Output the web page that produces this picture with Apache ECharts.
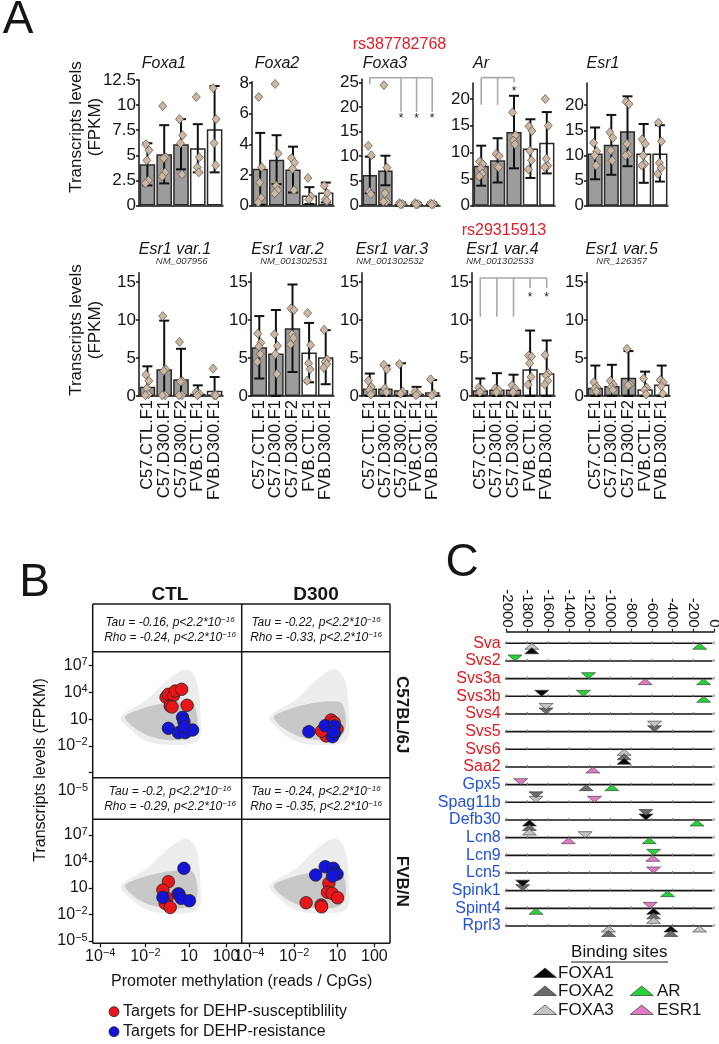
<!DOCTYPE html>
<html><head><meta charset="utf-8">
<script src="https://cdn.jsdelivr.net/npm/echarts@6/dist/echarts.min.js"></script>
<style>html,body{margin:0;padding:0;background:#fff}#c{width:719px;height:1044px}</style>
</head><body><div id="c"></div>
<script>
// ---------------- DATA ----------------
const groups = ['C57.CTL.F1','C57.D300.F1','C57.D300.F2','FVB.CTL.F1','FVB.D300.F1'];
const topGenes = ['Foxa1','Foxa2','Foxa3','Ar','Esr1'];
const botGenes = ['Esr1 var.1','Esr1 var.2','Esr1 var.3','Esr1 var.4','Esr1 var.5'];
const botAccessions = ['NM_007956','NM_001302531','NM_001302532','NM_001302533','NR_126357'];
const snpTop = 'rs387782768';
const snpBot = 'rs29315913';

const foxa1Mean = [4.1, 5.1, 6.1, 5.7, 7.6];
const foxa1Sd   = [2.1, 2.9, 2.5, 2.4, 4.3];
const foxa1Pts  = [[6.1,5.5,4.5,2.5,2.2],[9.9,4.8,4.7,3.3,2.9],[8.6,7.0,6.2,3.1],[10.8,4.8,3.8,3.3],[11.7,8.6,6.2,4.0]];
const foxa2Mean = [2.4, 3.0, 2.35, 0.65, 0.85];
const foxa2Sd   = [2.35, 1.6, 1.5, 0.55, 0.65];
const foxa2Pts  = [[7.1,2.5,1.5,0.5,0.2],[7.95,3.4,1.3,1.0,0.8],[3.1,2.8,2.4,1.0],[1.8,0.6,0.4],[1.3,0.8,0.4,0.3]];
const foxa3Mean = [6.2, 7.1, 0.3, 0.3, 0.3];
const foxa3Sd   = [3.7, 3.0, 0.3, 0.3, 0.3];
const foxa3Pts  = [[12.1,10.2,2.8,2.3],[24.4,7.7,2.5,0.8,0.8],[0.5,0.3,0.2],[0.5,0.3,0.2],[0.4,0.3,0.2]];
const arMean    = [7.5, 8.5, 13.8, 10.7, 11.8];
const arSd      = [3.75, 4.15, 6.8, 5.5, 5.75];
const arPts     = [[8.3,7.8,7.0,6.0,5.5],[9.7,9.3,7.3,7.2],[17.5,13.2,12.2,11.5],[14.9,14.0,10.3,8.5,6.8],[20.0,15.0,8.8,7.5,7.2]];
const esr1Mean  = [10.4, 12.1, 14.8, 10.4, 10.4];
const esr1Sd    = [5.15, 5.95, 6.95, 5.85, 5.6];
const esr1Pts   = [[12.5,10.8,10.0,8.0],[14.6,13.5,11.0,9.0],[20.7,20.2,12.3,10.2,10.0],[13.2,12.3,10.0,8.3,8.0],[16.5,12.8,8.5,7.5,6.3]];

const var1Mean = [1.2, 3.5, 2.2, 0.3, 0.7];
const var1Sd   = [2.7, 6.4, 4.0, 1.1, 1.8];
const var1Pts  = [[2.8,2.0,1.0,0.2,0.1],[10.5,3.5,3.3,0.1,0.1],[7.1,1.9,1.9,0.1,0.1],[0.5,0.3,0.1],[3.6,0.1,0.1,0.1]];
const var2Mean = [6.4, 5.6, 8.9, 5.7, 5.1];
const var2Sd   = [4.1, 5.7, 5.75, 3.9, 3.55];
const var2Pts  = [[8.2,7.0,6.5,5.5,4.5],[8.1,6.6,5.5,2.9],[11.5,11.3,8.1,7.6,6.8],[10.9,6.7,4.3,3.5,2.0],[8.7,4.8,4.5,4.2,3.7]];
const var3Mean = [1.0, 1.0, 0.75, 0.3, 0.5];
const var3Sd   = [1.95, 3.0, 3.55, 0.9, 1.6];
const var3Pts  = [[2.0,1.2,0.8,0.2],[4.1,3.5,1.0,0.5],[4.2,0.6,0.3],[0.6,0.3,0.1],[2.2,0.3,0.1]];
const var4Mean = [0.75, 0.85, 0.85, 3.5, 3.0];
const var4Sd   = [1.55, 2.15, 1.95, 5.1, 4.3];
const var4Pts  = [[1.1,0.8,0.5],[1.0,0.8,0.5],[1.4,1.0,0.5],[5.3,5.2,4.3,2.5,1.5],[5.4,3.0,2.7,2.0,1.5]];
const var5Mean = [1.1, 1.3, 2.4, 0.9, 1.5];
const var5Sd   = [2.9, 2.8, 3.5, 2.3, 2.5];
const var5Pts  = [[1.8,1.2,1.0,0.6],[2.0,1.5,1.2,0.8],[6.2,1.5,1.4],[2.3,1.1,0.8,0.2],[2.1,1.8,1.3,0.3]];

// significance brackets: [bar index, lower end of leg], bracket top, starred bars
const foxa3SigLegs = [[0,24.6],[2,19.0],[3,19.0],[4,19.0]]; const foxa3SigTop = 25.9; const foxa3Stars = [2,3,4]; const foxa3StarY = 17.6;
const arSigLegs    = [[0,18.9],[1,18.9],[2,23.1]];          const arSigTop = 24.0;    const arStars = [2];       const arStarY = 21.4;
const var4SigLegs  = [[0,10.4],[1,10.4],[2,10.4],[3,14.2],[4,14.2]]; const var4SigTop = 15.5; const var4Stars = [3,4]; const var4StarY = 12.9;

// Panel B
const bCols = ['CTL','D300'];
const bRows = ['C57BL/6J','FVB/N'];
const bStats = [
  ['Tau = -0.16, p<2.2*10','Rho = -0.24, p<2.2*10'],
  ['Tau = -0.22, p<2.2*10','Rho = -0.33, p<2.2*10'],
  ['Tau = -0.2, p<2.2*10','Rho = -0.29, p<2.2*10'],
  ['Tau = -0.24, p<2.2*10','Rho = -0.35, p<2.2*10']
];
const bStatExp = '−16';
const bXTickVals = [0.05, 1.04, 1.99, 2.8];
const bXTickText = [['10','−4'],['10','−2'],['10',''],['100','']];
const bYTickVals = [-5,-2,1,4,7];
const bYTickText = [['10','−5'],['10','−2'],['10',''],['10','4'],['10','7']];
// x: methylation axis position, y: log10 FPKM
const cloudCore = [[0.59,1.28],[0.91,2.1],[1.35,2.7],[1.8,3.0],[2.07,2.85],[2.16,1.66],[2.17,0.16],[2.05,-1.0],[1.57,-1.35],[1.1,-0.85],[0.75,0.2]];
const cloudHalo = [[0.5,1.28],[1.1,3.3],[1.5,5.3],[1.93,6.6],[2.15,5.4],[2.24,1.66],[2.2,-1.3],[1.71,-1.9],[1.06,-1.45],[0.63,0.2]];
const redC57CTL   = [[1.49,3.46],[1.54,3.79],[1.65,3.64],[1.69,4.16],[1.83,4.35],[1.58,2.48],[1.62,2.37],[1.95,2.56]];
const blueC57CTL  = [[1.54,-0.02],[1.85,1.21],[1.88,0.72],[1.76,-0.51],[1.91,-0.51],[2.07,-0.21],[1.89,0.16]];
const redC57D300  = [[1.85,0.91],[1.77,0.05],[1.92,0.61],[1.77,-0.66],[1.74,-0.88],[1.98,-0.1],[1.64,-0.33]];
const blueC57D300 = [[1.72,0.27],[1.92,0.24],[1.36,-0.4],[1.92,-0.58],[1.88,-0.96],[1.9,-0.4]];
const redFVBCTL   = [[1.54,1.71],[1.42,0.77],[1.51,-0.17],[1.47,-0.74],[1.58,-1.2],[1.75,0.32]];
const blueFVBCTL  = [[1.88,3.23],[1.42,-0.06],[1.77,0.32],[1.82,-0.17],[2.0,-0.44]];
const redFVBD300  = [[1.8,1.53],[1.77,0.51],[1.87,0.39],[1.99,-0.1],[1.3,-0.67],[1.63,-0.93],[1.64,-1.13]];
const blueFVBD300 = [[1.72,3.41],[1.9,3.23],[1.94,2.73],[1.98,2.58],[1.51,2.47],[1.88,2.35]];
const bLegend = ['Targets for DEHP-susceptiblility','Targets for DEHP-resistance'];

// Panel C
const cGenes = ['Sva','Svs2','Svs3a','Svs3b','Svs4','Svs5','Svs6','Saa2','Gpx5','Spag11b','Defb30','Lcn8','Lcn9','Lcn5','Spink1','Spint4','Rprl3'];
const cSusceptible = [1,1,1,1,1,1,1,1,0,0,0,0,0,0,0,0,0];
const cTFs = ['FOXA1','FOXA2','FOXA3','AR','ESR1'];
const siteGene   = ['Sva','Sva','Sva','Svs2','Svs3a','Svs3a','Svs3a','Svs3b','Svs3b','Svs3b','Svs4','Svs4','Svs5','Svs5','Svs6','Svs6','Svs6','Saa2',
  'Gpx5','Gpx5','Gpx5','Spag11b','Spag11b','Spag11b','Defb30','Defb30','Defb30','Defb30','Defb30','Defb30','Lcn8','Lcn8','Lcn8','Lcn9','Lcn9','Lcn5',
  'Spink1','Spink1','Spink1','Spint4','Spint4','Spint4','Spint4','Spint4','Rprl3','Rprl3','Rprl3','Rprl3','Rprl3'];
const siteTF     = ['FOXA3','FOXA1','AR','AR','AR','ESR1','AR','FOXA1','AR','AR','FOXA2','FOXA3','FOXA2','FOXA3','FOXA3','FOXA2','FOXA1','ESR1',
  'ESR1','FOXA2','AR','FOXA3','FOXA2','ESR1','FOXA1','FOXA2','FOXA1','FOXA2','FOXA3','AR','ESR1','FOXA3','AR','AR','ESR1','ESR1',
  'FOXA2','FOXA1','AR','AR','ESR1','FOXA1','FOXA2','FOXA3','FOXA3','FOXA2','FOXA1','FOXA2','FOXA3'];
const sitePos    = [-1758,-1758,-139,-1920,-1211,-664,-100,-1662,-1260,-100,-1620,-1620,-574,-574,-867,-867,-867,-1169,
  -1865,-1234,-986,-1717,-1717,-1153,-657,-657,-1781,-1781,-1781,-164,-1405,-1243,-625,-583,-590,-583,
  -1846,-1846,-448,-1717,-616,-583,-583,-583,-1018,-1018,-416,-416,-139];
const siteStrand = ['-','-','-','+','+','-','-','+','+','-','+','+','+','+','-','-','-','-',
  '+','-','-','+','+','+','+','+','-','-','-','-','-','+','-','+','-','+',
  '+','+','-','-','+','-','-','-','-','-','-','-','-'];
const cXTicks = [-2000,-1800,-1600,-1400,-1200,-1000,-800,-600,-400,-200,0];

// ---------------- BUILD ----------------
const FONT = '"Liberation Sans", Arial, Helvetica, sans-serif';
const INK = '#151515';
const grids = [], xAxes = [], yAxes = [], series = [], graphics = [];
function addGrid(left, top, width, height) {
  grids.push({left, top, width, height, containLabel:false, outerBoundsMode:'none', show:false});
  return grids.length - 1;
}
function txt(x, y, text, o) {
  o = o || {};
  const st = {text, fill:o.color||INK, fontSize:o.size||16, fontFamily:FONT,
    fontStyle:o.italic?'italic':'normal', fontWeight:o.bold?'bold':'normal',
    align:o.align||'center', verticalAlign:o.va||'middle'};
  if (o.rich) st.rich = o.rich;
  graphics.push({type:'text', x, y, rotation:o.rot||0, silent:true, z:100, style:st});
}
function gline(x1,y1,x2,y2,w,c) {
  graphics.push({type:'line', silent:true, z:100, shape:{x1,y1,x2,y2}, style:{stroke:c||INK, lineWidth:w||1.5}});
}

// ---- Panel A ----
const JIT = [-1.5, 1.5, -0.5, 1, -2, 2];
function barPanel(p) {
  const gi = addGrid(p.left, p.top, p.width, p.height);
  xAxes.push({gridIndex:gi, type:'category', data:groups,
    axisLine:{show:true, onZero:false, lineStyle:{color:INK, width:1.5}}, axisTick:{show:false},
    axisLabel: p.showX ? {show:true, interval:0, rotate:90, fontSize:16.5, color:INK, margin:4, fontFamily:FONT} : {show:false},
    splitLine:{show:false}});
  yAxes.push({gridIndex:gi, type:'value', min:0, max:p.max,
    axisLine:{show:true, onZero:false, lineStyle:{color:INK, width:1.5}},
    axisTick:{show:true, length:3, customValues:p.ticks, lineStyle:{color:INK, width:1.5}},
    axisLabel:{show:true, customValues:p.ticks, fontSize:17, color:INK, margin:3, fontFamily:FONT},
    splitLine:{show:false}});
  series.push({type:'bar', xAxisIndex:gi, yAxisIndex:gi, barCategoryGap:'7%', silent:true, z:2,
    data:p.mean.map((v,k)=>({value:v, itemStyle:{color:k<3?'#9c9c9c':'#ffffff'}})),
    itemStyle:{borderColor:'#2a2a2a', borderWidth:1.5}});
  series.push({type:'custom', xAxisIndex:gi, yAxisIndex:gi, clip:false, z:4, silent:true,
    data:p.mean.map((m,k)=>[k, Math.max(0, m-p.sd[k]), m+p.sd[k]]),
    renderItem:(params, api)=>{
      const x = api.coord([api.value(0), 0])[0];
      const lo = api.coord([api.value(0), api.value(1)])[1];
      const hi = api.coord([api.value(0), api.value(2)])[1];
      const c = 5, st = {stroke:'#111', lineWidth:2};
      return {type:'group', children:[
        {type:'line', shape:{x1:x,y1:lo,x2:x,y2:hi}, style:st},
        {type:'line', shape:{x1:x-c,y1:hi,x2:x+c,y2:hi}, style:st},
        {type:'line', shape:{x1:x-c,y1:lo,x2:x+c,y2:lo}, style:st}]};
    }});
  const pts = [];
  p.pts.forEach((arr,k)=>arr.forEach((v,j)=>pts.push({value:[k,v], symbolOffset:[JIT[j%JIT.length],0]})));
  series.push({type:'scatter', xAxisIndex:gi, yAxisIndex:gi, symbol:'diamond', symbolSize:[8,9], silent:true, z:5,
    data:pts, itemStyle:{color:'#cab8a4', borderColor:'#6c5f54', borderWidth:0.8, opacity:1}});
  if (p.sig) {
    const s = p.sig;
    series.push({type:'custom', xAxisIndex:gi, yAxisIndex:gi, clip:false, z:3, silent:true, data:[0],
      renderItem:(params, api)=>{
        const X = k=>api.coord([k,0])[0], Y = v=>api.coord([0,v])[1];
        const xs = s.legs.map(l=>X(l[0]));
        const st = {stroke:'#a9a9a9', lineWidth:1.6};
        const ch = [{type:'line', shape:{x1:Math.min(...xs), y1:Y(s.top), x2:Math.max(...xs), y2:Y(s.top)}, style:st}];
        s.legs.forEach(l=>ch.push({type:'line', shape:{x1:X(l[0]), y1:Y(s.top), x2:X(l[0]), y2:Y(l[1])}, style:st}));
        s.stars.forEach(k=>ch.push({type:'text', x:X(k), y:Y(s.starY), style:{text:'*', fill:'#222', fontSize:12, fontFamily:FONT, align:'center', verticalAlign:'middle'}}));
        return {type:'group', children:ch};
      }});
  }
}
const topLayout = [
  {left:139, width:84, top:80,   bottom:205.5, max:12.5, ticks:[0,2.5,5,7.5,10,12.5]},
  {left:252, width:82, top:81.7, bottom:205.5, max:8.1,  ticks:[0,2,4,6,8]},
  {left:362, width:78, top:79.3, bottom:205.5, max:25.6, ticks:[0,5,10,15,20,25]},
  {left:473, width:82, top:83,   bottom:205.7, max:23,   ticks:[0,5,10,15,20]},
  {left:587, width:81, top:83,   bottom:205.7, max:24.4, ticks:[0,5,10,15,20]}
];
const topData = [
  [foxa1Mean, foxa1Sd, foxa1Pts, null],
  [foxa2Mean, foxa2Sd, foxa2Pts, null],
  [foxa3Mean, foxa3Sd, foxa3Pts, {legs:foxa3SigLegs, top:foxa3SigTop, stars:foxa3Stars, starY:foxa3StarY}],
  [arMean, arSd, arPts, {legs:arSigLegs, top:arSigTop, stars:arStars, starY:arStarY}],
  [esr1Mean, esr1Sd, esr1Pts, null]
];
topLayout.forEach((L,i)=>barPanel({left:L.left, width:L.width, top:L.top, height:L.bottom-L.top, max:L.max, ticks:L.ticks,
  mean:topData[i][0], sd:topData[i][1], pts:topData[i][2], sig:topData[i][3], showX:false}));
const botLeft = [139, 251, 362, 472, 587], botWidth = [84, 83, 78, 83, 83];
const botData = [
  [var1Mean, var1Sd, var1Pts, null],
  [var2Mean, var2Sd, var2Pts, null],
  [var3Mean, var3Sd, var3Pts, null],
  [var4Mean, var4Sd, var4Pts, {legs:var4SigLegs, top:var4SigTop, stars:var4Stars, starY:var4StarY}],
  [var5Mean, var5Sd, var5Pts, null]
];
botData.forEach((d,i)=>barPanel({left:botLeft[i], width:botWidth[i], top:272.7, height:123.3, max:16.2, ticks:[0,5,10,15],
  mean:d[0], sd:d[1], pts:d[2], sig:d[3], showX:true}));

// titles A
const topTitleX = [164, 277, 385, 481, 603];
topGenes.forEach((g,i)=>txt(topTitleX[i], 64, g, {italic:true, size:16}));
txt(399.5, 45, snpTop, {color:'#e51c23', size:16});
const botTitleX = [175, 287.5, 392, 502.5, 621.7], botSubX = [181.7, 294, 390, 500, 621.7];
botGenes.forEach((g,i)=>{ txt(botTitleX[i], 250, g, {italic:true, size:16}); txt(botSubX[i], 261.5, botAccessions[i], {italic:true, size:9.5, color:'#333'}); });
txt(504, 231, snpBot, {color:'#e51c23', size:16});
[127, 330].forEach(cy=>{
  txt(76.5, cy, 'Transcripts levels', {rot:Math.PI/2, size:17});
  txt(95.5, cy, '(FPKM)', {rot:Math.PI/2, size:17});
});
txt(18, 20, 'A', {size:46});

// ---- Panel B ----
const bRich = {b:{fontSize:16, fontFamily:FONT, color:INK, lineHeight:18}, s:{fontSize:11, fontFamily:FONT, color:INK, verticalAlign:'top', lineHeight:11}};
function tickFmt(vals, texts) {
  return v => { const i = vals.findIndex(t=>Math.abs(t-v)<1e-6); if (i<0) return ''; const t = texts[i]; return t[1] ? '{b|'+t[0]+'}{s|'+t[1]+'}' : '{b|'+t[0]+'}'; };
}
function scatterPanel(box, yr, showX, showY, yLabVals, red, blue) {
  const gi = addGrid(box[0], box[1], box[2], box[3]);
  xAxes.push({gridIndex:gi, type:'value', min:-0.116, max:3.144,
    axisLine:{show:false, onZero:false}, splitLine:{show:false},
    axisTick:{show:showX, customValues:bXTickVals, length:4, lineStyle:{color:INK, width:1.3}},
    axisLabel:{show:showX, customValues:bXTickVals, margin:4, formatter:tickFmt(bXTickVals,bXTickText), rich:bRich}});
  yAxes.push({gridIndex:gi, type:'value', min:yr[0], max:yr[1],
    axisLine:{show:false, onZero:false}, splitLine:{show:false},
    axisTick:{show:showY, customValues:bYTickVals, length:4, lineStyle:{color:INK, width:1.3}},
    axisLabel:{show:showY, customValues:yLabVals, margin:5, formatter:tickFmt(bYTickVals,bYTickText), rich:bRich}});
  series.push({type:'custom', xAxisIndex:gi, yAxisIndex:gi, clip:true, silent:true, z:1, data:[0],
    renderItem:(params, api)=>({type:'group', children:[
      {type:'polygon', shape:{points:cloudHalo.map(p=>api.coord(p)), smooth:0.35}, style:{fill:'#ededed'}},
      {type:'polygon', shape:{points:cloudCore.map(p=>api.coord(p)), smooth:0.3}, style:{fill:'#c8c8c8'}}]})});
  series.push({type:'scatter', xAxisIndex:gi, yAxisIndex:gi, symbolSize:12.5, silent:true, z:3, data:red,
    itemStyle:{color:'#e8161b', borderColor:'#222', borderWidth:0.8, opacity:1}});
  series.push({type:'scatter', xAxisIndex:gi, yAxisIndex:gi, symbolSize:12.5, silent:true, z:4, data:blue,
    itemStyle:{color:'#1414d8', borderColor:'#222', borderWidth:0.8, opacity:1}});
}
const BL = 92.7, BM = 241.7, BR = 390, BY0 = 604, BY1 = 651.7, BY2 = 777.7, BY3 = 819.3, BY4 = 943.3;
scatterPanel([BL, BY1, BM-BL, BY2-BY1], [-5.56, 8.57], false, true, [-2,1,4,7], redC57CTL, blueC57CTL);
scatterPanel([BM, BY1, BR-BM, BY2-BY1], [-5.56, 8.57], false, false, [], redC57D300, blueC57D300);
scatterPanel([BL, BY3, BM-BL, BY4-BY3], [-5.26, 8.78], true, true, bYTickVals, redFVBCTL, blueFVBCTL);
scatterPanel([BM, BY3, BR-BM, BY4-BY3], [-5.26, 8.78], true, false, [], redFVBD300, blueFVBD300);
// box lines
gline(BL, BY0, BR, BY0); gline(BL, BY4, BR, BY4); gline(BL, BY0, BL, BY4); gline(BR, BY0, BR, BY4); gline(BM, BY0, BM, BY4);
gline(BL, BY1, BR, BY1); gline(BL, BY2, BR, BY2); gline(BL, BY3, BR, BY3);
txt(170, 595, bCols[0], {bold:true, size:19}); txt(316, 595, bCols[1], {bold:true, size:19});
txt(402, (BY1+BY2)/2, bRows[0], {bold:true, size:17, rot:-Math.PI/2});
txt(402, (BY3+BY4)/2, bRows[1], {bold:true, size:17, rot:-Math.PI/2});
const statRich = {a:{fontSize:12, fontStyle:'italic', fontFamily:FONT, color:INK, lineHeight:14}, s:{fontSize:8, fontStyle:'italic', fontFamily:FONT, color:INK, verticalAlign:'top', lineHeight:8}};
const statPos = [[170, 622.7], [316, 622.7], [170, 791.5], [316, 791.5]];
bStats.forEach((s,i)=>{
  txt(statPos[i][0], statPos[i][1], '{a|'+s[0]+'}{s|'+bStatExp+'}', {rich:statRich});
  txt(statPos[i][0], statPos[i][1]+15, '{a|'+s[1]+'}{s|'+bStatExp+'}', {rich:statRich});
});
txt(88, 791, '{b|10}{s|−5}', {align:'right', rich:bRich});
txt(41, 770, 'Transcripts levels (FPKM)', {rot:Math.PI/2, size:16});
txt(241.7, 982, 'Promoter methylation (reads / CpGs)', {size:16});
graphics.push({type:'circle', silent:true, z:100, shape:{cx:114, cy:1011.7, r:5}, style:{fill:'#e8161b', stroke:'#222', lineWidth:0.8}});
graphics.push({type:'circle', silent:true, z:100, shape:{cx:114, cy:1031.7, r:5}, style:{fill:'#1414d8', stroke:'#222', lineWidth:0.8}});
txt(123, 1012, bLegend[0], {align:'left', size:16});
txt(123, 1032, bLegend[1], {align:'left', size:16});
txt(34.5, 583, 'B', {size:46});

// ---- Panel C ----
const tfColor = {FOXA1:'#0a0a0a', FOXA2:'#6a6a6a', FOXA3:'#c4c4c4', AR:'#27d13a', ESR1:'#e07cc4'};
const cgi = addGrid(506.7, 631.7, 207.3, 17.156*17.67);
xAxes.push({gridIndex:cgi, type:'value', position:'top', min:-2000, max:0, interval:200,
  axisLine:{show:true, onZero:false, lineStyle:{color:INK, width:1.5}},
  axisTick:{show:true, length:3, lineStyle:{color:INK, width:1.2}},
  axisLabel:{show:true, rotate:90, fontSize:15, color:INK, margin:4, fontFamily:FONT, formatter:v=>String(v)},
  splitLine:{show:false}});
yAxes.push({gridIndex:cgi, type:'value', inverse:true, min:-0.656, max:16.5,
  axisLine:{show:false, onZero:false}, axisTick:{show:false}, splitLine:{show:false},
  axisLabel:{show:true, customValues:cGenes.map((g,i)=>i), margin:6,
    formatter:v=>{ const i = Math.round(v); return (cSusceptible[i]?'{r|':'{b|')+cGenes[i]+'}'; },
    rich:{r:{color:'#e5191f', fontSize:16, fontFamily:FONT}, b:{color:'#2152dc', fontSize:16, fontFamily:FONT}}}});
series.push({type:'custom', xAxisIndex:cgi, yAxisIndex:cgi, clip:false, silent:true, z:2,
  data:cGenes.map((g,i)=>[i]),
  renderItem:(params, api)=>{
    const r = api.value(0);
    const y = api.coord([0, r])[1];
    const x0 = api.coord([-2000, r])[0] - 1.5, x1 = api.coord([0, r])[0] - 1.5;
    const ch = [{type:'line', shape:{x1:x0, y1:y, x2:x1, y2:y}, style:{stroke:INK, lineWidth:1.6}}];
    cXTicks.forEach(t=>{ const x = api.coord([t, r])[0]; ch.push({type:'line', shape:{x1:x, y1:y-2, x2:x, y2:y+1}, style:{stroke:'#777', lineWidth:1}}); });
    return {type:'group', children:ch};
  }});
const siteData = siteGene.map((g,i)=>{
  let level = 0;
  for (let j=0;j<i;j++) if (siteGene[j]===g && siteStrand[j]===siteStrand[i] && Math.abs(sitePos[j]-sitePos[i])<40) level++;
  return [sitePos[i], cGenes.indexOf(g), cTFs.indexOf(siteTF[i]), siteStrand[i]==='+'?1:-1, level];
});
series.push({type:'custom', xAxisIndex:cgi, yAxisIndex:cgi, clip:false, silent:true, z:5, data:siteData,
  renderItem:(params, api)=>{
    const pt = api.coord([api.value(0), api.value(1)]);
    const tf = cTFs[api.value(2)], dir = api.value(3), lv = api.value(4);
    const w = 14, h = 6, off = 4.5;
    let pts;
    if (dir > 0) { const a = pt[1] - lv*off; pts = [[pt[0], a], [pt[0]-w/2, a-h], [pt[0]+w/2, a-h]]; }
    else { const a = pt[1] + lv*off; pts = [[pt[0], a], [pt[0]-w/2, a+h], [pt[0]+w/2, a+h]]; }
    return {type:'polygon', shape:{points:pts}, style:{fill:tfColor[tf], stroke:'#333', lineWidth:0.6}};
  }});
txt(619.3, 952.7, 'Binding sites', {size:17});
gline(571, 962, 668, 962, 1.2);
function legTri(cx, cy, color) {
  graphics.push({type:'polygon', silent:true, z:100, shape:{points:[[cx, cy-5],[cx-11.5, cy+4.5],[cx+11.5, cy+4.5]]}, style:{fill:color, stroke:'#333', lineWidth:0.7}});
}
legTri(545, 973, tfColor.FOXA1); txt(558, 973, 'FOXA1', {align:'left', size:17});
legTri(545, 991, tfColor.FOXA2); txt(558, 991, 'FOXA2', {align:'left', size:17});
legTri(545, 1010, tfColor.FOXA3); txt(558, 1010, 'FOXA3', {align:'left', size:17});
legTri(641.7, 991, tfColor.AR); txt(657, 991, 'AR', {align:'left', size:17});
legTri(641.7, 1010, tfColor.ESR1); txt(657, 1010, 'ESR1', {align:'left', size:17});
txt(462, 563, 'C', {size:46});

const chart = echarts.init(document.getElementById('c'), null, {renderer:'canvas', width:719, height:1044});
chart.setOption({
  animation:false,
  backgroundColor:'#ffffff',
  textStyle:{fontFamily:FONT},
  grid:grids, xAxis:xAxes, yAxis:yAxes, series:series,
  graphic:{elements:graphics}
});
</script></body></html>
